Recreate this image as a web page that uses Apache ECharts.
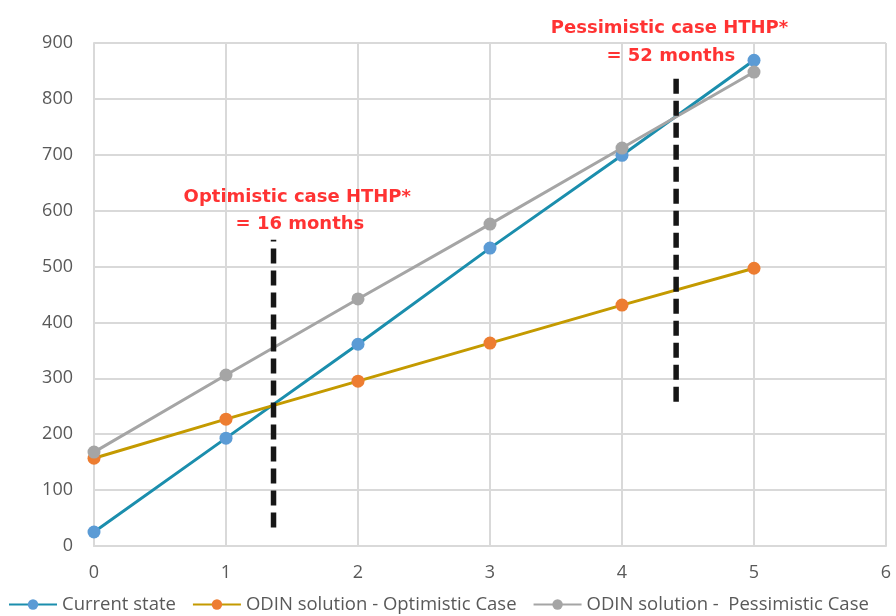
<!DOCTYPE html>
<html><head><meta charset="utf-8">
<script src="https://cdn.jsdelivr.net/npm/echarts@6/dist/echarts.min.js"></script>
<style>html,body{margin:0;padding:0;background:#fff}#c{width:896px;height:616px}</style>
</head><body><div id="c"></div>
<script>
const xValues = [0, 1, 2, 3, 4, 5];
const currentState = [25, 193, 361, 533, 699, 869];
const optimistic = [157, 227, 295, 363, 431, 497];
const pessimistic = [168, 306, 442, 576, 712, 848];
const optLineX = 1.36, optLineY = [33, 548];
const pesLineX = 4.41, pesLineY = [258, 836];
const optLabel = ['Optimistic case HTHP*', '= 16 months'];
const pesLabel = ['Pessimistic case HTHP*', '= 52 months'];
const optLabelPos = [[1.54, 624], [1.56, 576]];
const pesLabelPos = [[4.36, 927], [4.37, 877]];

const chart = echarts.init(document.getElementById('c'));
const pair = (xs, ys) => xs.map((x, i) => [x, ys[i]]);
const lineSeries = (name, data, lineColor, markerColor) => ({
  name, type: 'line', data: pair(xValues, data), symbol: 'circle', symbolSize: 13,
  lineStyle: { color: lineColor, width: 3 }, itemStyle: { color: markerColor },
  color: markerColor, z: 3
});
const textSeries = (labels, pos) => ({
  type: 'scatter', symbolSize: 0, silent: true, clip: false, z: 5,
  data: labels.map((t, i) => ({ value: pos[i], name: t })),
  label: { show: true, position: 'inside', formatter: p => p.name, color: '#FF0000',
    fontFamily: 'DejaVu Sans', fontWeight: 'bold', fontSize: 18 }
});
const dashSeries = (x, ys) => ({
  type: 'line', data: ys.map(y => [x, y]), symbol: 'none', silent: true, z: 4,
  lineStyle: { color: '#161616', width: 5.5, type: [15, 7] }
});
chart.setOption({
  animation: false,
  grid: { left: 94, right: 10, top: 43, bottom: 70 },
  legend: {
    bottom: 2, left: 8, width: 888, padding: 0, itemWidth: 48, itemHeight: 13, itemGap: 16,
    data: ['Current state', 'ODIN solution - Optimistic Case', 'ODIN solution -  Pessimistic Case'],
    textStyle: { color: '#595959', fontSize: 18.5, fontFamily: 'Open Sans' }
  },
  xAxis: {
    type: 'value', min: 0, max: 6, interval: 1,
    axisLine: { lineStyle: { color: '#D9D9D9', width: 2 } }, axisTick: { show: false },
    splitLine: { show: true, lineStyle: { color: '#D9D9D9', width: 2 } },
    axisLabel: { color: '#595959', fontSize: 18, fontFamily: 'Open Sans', margin: 18 }
  },
  yAxis: {
    type: 'value', min: 0, max: 900, interval: 100,
    axisLine: { show: true, lineStyle: { color: '#D9D9D9', width: 2 } }, axisTick: { show: false },
    splitLine: { lineStyle: { color: '#D9D9D9', width: 2 } },
    axisLabel: { color: '#595959', fontSize: 18, fontFamily: 'Open Sans', margin: 21 }
  },
  series: [
    lineSeries('Current state', currentState, '#1B8EAD', '#5B9BD5'),
    lineSeries('ODIN solution - Optimistic Case', optimistic, '#C49A00', '#ED7D31'),
    lineSeries('ODIN solution -  Pessimistic Case', pessimistic, '#A5A5A5', '#A5A5A5'),
    dashSeries(optLineX, optLineY),
    dashSeries(pesLineX, pesLineY),
    textSeries(optLabel, optLabelPos),
    textSeries(pesLabel, pesLabelPos)
  ]
});
</script></body></html>
